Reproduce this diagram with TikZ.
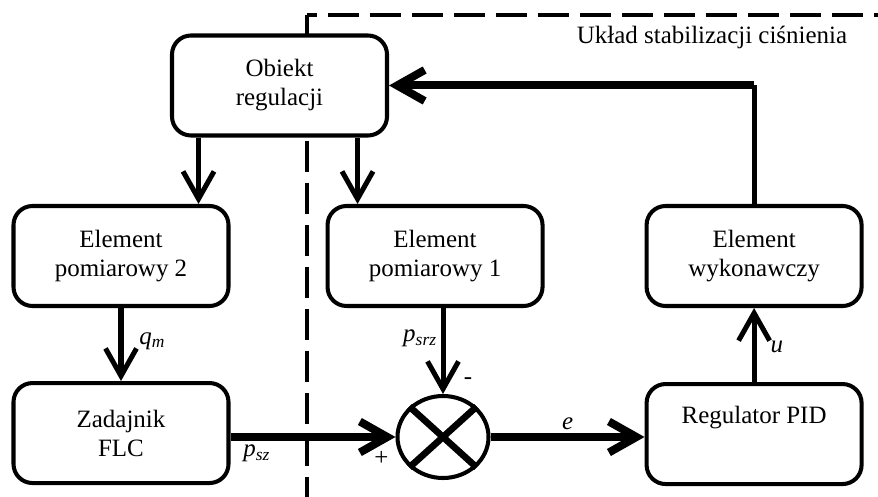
\documentclass[tikz,border=0pt]{standalone}
\usepackage{fontspec}
\setmainfont{Liberation Serif}
\usetikzlibrary{arrows.meta, positioning, calc, shapes.geometric}

\begin{document}
\begin{tikzpicture}[
        font=\fontsize{14.2pt}{16.5pt}\selectfont,
        block/.style={rectangle, rounded corners=0.38cm, draw, line width=2.3pt, fill=white, align=center, minimum width=4.3cm, minimum height=2.0cm, inner sep=0pt},
        sumnode/.style={ellipse, draw, line width=2.3pt, fill=white, minimum width=1.82cm, minimum height=1.64cm, inner sep=0pt},
        arr/.style={-{Straight Barb[length=0.55cm, width=0.62cm]}},
        sig/.style={line width=2.85pt},
        bus/.style={line width=4.55pt},
        lbl/.style={inner sep=2pt},
        border/.style={line width=2.3pt, dash pattern=on 0.62cm off 0.22cm}
    ]
    \useasboundingbox (0,0) rectangle (17.56,-9.94);

    % Boundary of the pressure loop
    \coordinate (corner) at (6.14, -0.3);
    \coordinate (cornerR) at (17.56, -0.3);
    \coordinate (cornerB) at (6.14, -9.94);
    \draw[border] (corner) -- (cornerB);
    \draw[border, dash phase=0.42cm] (corner) -- (cornerR);
    \node (title) at (14.24, -0.74) {Układ stabilizacji ciśnienia};

    % Blocks
    \node[block] (obj) at (5.59, -1.71) {Obiekt\\regulacji};
    \node[block] (ep2) at (2.42, -5.12) {Element\\pomiarowy 2};
    \node[block] (ep1) [right=1.9cm of ep2] {Element\\pomiarowy 1};
    \node[block] (ew) [right=2.0cm of ep1] {Element\\wykonawczy};
    \node[block] (zad) [below=1.46cm of ep2] {Zadajnik\\FLC};
    \node[block] (pid) [below=1.48cm of ew] {Regulator PID\\\strut};

    % Summing junction
    \node[sumnode] (sum) at (8.86, -8.74) {};
    \draw[line width=3.8pt] (sum.north west) -- (sum.south east);
    \draw[line width=3.8pt] (sum.north east) -- (sum.south west);
    \node[lbl] (minus) at ($(sum.north)+(0.5,0.26)$) {-};
    \node[lbl] (plus) at ($(sum.west)+(-0.28,-0.42)$) {+};

    % Measurements
    \draw[sig, arr] ([xshift=-0.64cm]ep2.north east |- obj.south) -- ([xshift=-0.64cm]ep2.north east);
    \draw[sig, arr] ([xshift=0.64cm]ep1.north west |- obj.south) -- ([xshift=0.64cm]ep1.north west);
    \draw[sig, arr] (ep2.south) -- node[lbl, right, xshift=7pt, pos=0.45] {\textit{q}\textsubscript{\textit{m}}} (zad.north);
    \draw[sig, arr] (ep1.south -| sum.north) -- node[lbl, left, pos=0.35] {\textit{p}\textsubscript{\textit{srz}}} (sum.north);

    % Set point and error
    \draw[bus, arr] (sum.west -| zad.east) -- node[lbl, below, pos=0.16] {\textit{p}\textsubscript{\textit{sz}}} (sum.west);
    \draw[bus, arr] (sum.east) -- node[lbl, above] {\textit{e}} (sum.east -| pid.west);

    % Control loop
    \draw[sig, arr] (pid.north) -- node[lbl, right, xshift=6pt, pos=0.47] {\textit{u}} (ew.south);
    \draw[sig] (ew.north) -- (ew.north |- obj.east);
    \draw[bus, arr] (ew.north |- obj.east) -- (obj.east);

\end{tikzpicture}
\end{document}
